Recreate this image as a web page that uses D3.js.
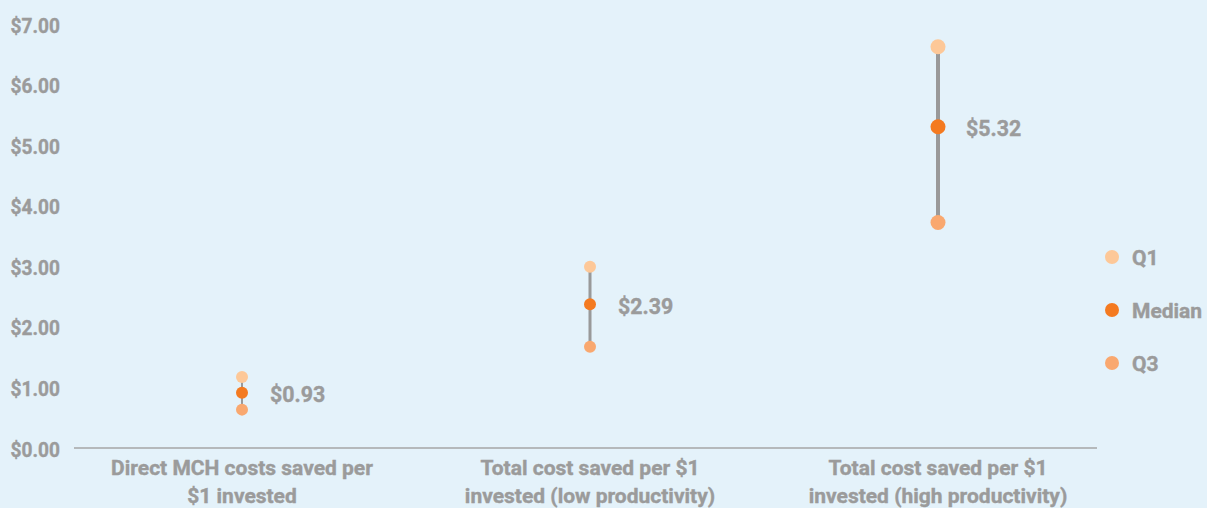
<!DOCTYPE html>
<html lang="en">
<head>
  <meta charset="UTF-8">
  <title>Cost saved per $1 invested</title>
  <style>
    * { box-sizing: border-box; }
    html, body { margin: 0; padding: 0; background: #e4f2fa; }
    svg { display: block; }
    text {
      font-family: Roboto, "Liberation Sans", sans-serif;
      font-weight: 700;
      fill: #9b9b9b;
      stroke: #9b9b9b;
      stroke-width: 0.4px;
    }
  </style>
</head>
<body>
<div class="demo"></div>
<script src="https://d3js.org/d3.v7.min.js"></script>
<script>
  // data
  let categories = [
    ['Direct MCH costs saved per', '$1 invested'],
    ['Total cost saved per $1', 'invested (low productivity)'],
    ['Total cost saved per $1', 'invested (high productivity)']
  ]
  let q1 = [1.19, 3.01, 6.64]
  let median = [0.93, 2.39, 5.32]
  let q3 = [0.65, 1.69, 3.74]
  let yTicks = [0, 1, 2, 3, 4, 5, 6, 7]
  let seriesNames = ['Q1', 'Median', 'Q3']

  let color = {Q1: '#fdc898', Median: '#f47a20', Q3: '#f9a86f'}
  let dotR = [6, 6, 7.5]
  let lineW = [2, 3, 4]

  let W = 1207, H = 508
  let svg = d3.select('.demo').append('svg')
    .attr('width', W)
    .attr('height', H)

  let x = d3.scalePoint()
    .domain(d3.range(categories.length))
    .range([242, 938])

  let y = d3.scaleLinear()
    .domain([0, 7])
    .range([449, 25])

  // y tick labels
  svg.append('g').selectAll('text')
    .data(yTicks)
    .enter()
    .append('text')
    .attr('transform', d => 'translate(60,' + y(d) + ') scale(0.91,1)')
    .attr('dy', '0.36em')
    .attr('text-anchor', 'end')
    .attr('font-size', '21px')
    .text(d => '$' + d.toFixed(2))

  // baseline
  svg.append('line')
    .attr('x1', 74).attr('x2', 1097)
    .attr('y1', 448).attr('y2', 448)
    .attr('stroke', '#a6a6a6')
    .attr('stroke-width', 1.5)

  // category labels
  let cat = svg.append('g').selectAll('text')
    .data(categories)
    .enter()
    .append('text')
    .attr('text-anchor', 'middle')
    .attr('font-size', '21px')
    .attr('transform', (d, i) => 'translate(' + x(i) + ',0)')
  cat.selectAll('tspan')
    .data(d => d)
    .enter()
    .append('tspan')
    .attr('x', 0)
    .attr('y', (d, j) => 475 + j * 28)
    .text(d => d)

  // range lines
  svg.append('g').selectAll('line')
    .data(categories)
    .enter()
    .append('line')
    .attr('x1', (d, i) => x(i)).attr('x2', (d, i) => x(i))
    .attr('y1', (d, i) => y(q1[i])).attr('y2', (d, i) => y(q3[i]))
    .attr('stroke', '#999999')
    .attr('stroke-width', (d, i) => lineW[i])

  // dots
  let series = [['Q1', q1], ['Q3', q3], ['Median', median]]
  series.forEach(([name, vals]) => {
    svg.append('g').selectAll('circle')
      .data(vals)
      .enter()
      .append('circle')
      .attr('cx', (d, i) => x(i))
      .attr('cy', d => y(d))
      .attr('r', (d, i) => dotR[i])
      .attr('fill', color[name])
  })

  // median value labels
  svg.append('g').selectAll('text')
    .data(median)
    .enter()
    .append('text')
    .attr('transform', (d, i) => 'translate(' + (x(i) + 28) + ',' + (y(d) + 1) + ') scale(0.93,1)')
    .attr('dy', '0.36em')
    .attr('font-size', '23px')
    .text(d => '$' + d.toFixed(2))

  // legend
  let legend = svg.append('g').selectAll('g')
    .data(seriesNames)
    .enter()
    .append('g')
    .attr('transform', (d, i) => 'translate(1112,' + (257 + i * 53) + ')')
  legend.append('circle')
    .attr('r', 7)
    .attr('fill', d => color[d])
  legend.append('text')
    .attr('x', 20)
    .attr('dy', '0.36em')
    .attr('font-size', '21px')
    .text(d => d)
</script>
</body>
</html>
